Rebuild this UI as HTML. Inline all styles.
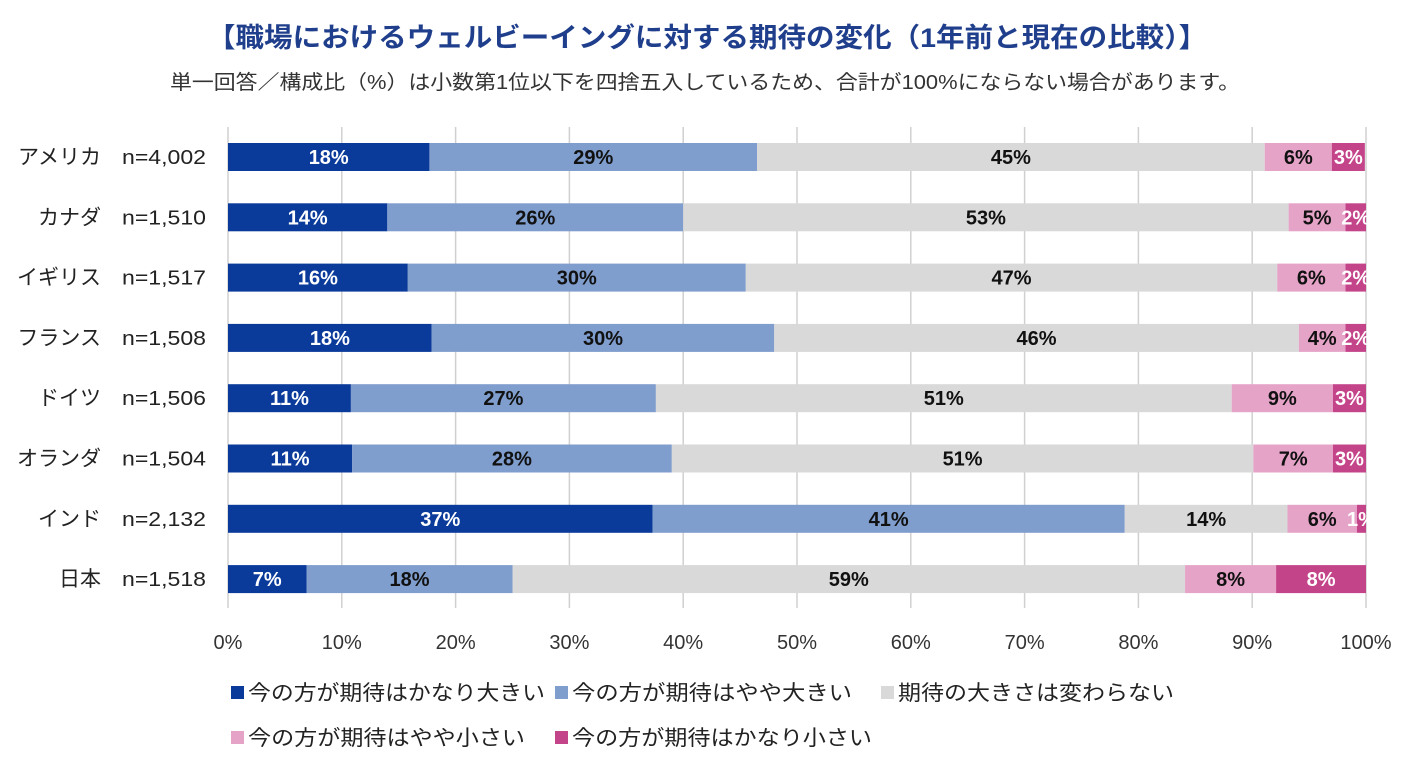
<!DOCTYPE html>
<html><head><meta charset="utf-8"><style>
body{margin:0;background:#fff;}
svg{display:block;font-family:"Liberation Sans","Noto Sans CJK JP",sans-serif;}
</style></head><body>
<svg id="chart" width="1417" height="767" xmlns="http://www.w3.org/2000/svg">
<text x="207" y="47" textLength="1000" lengthAdjust="spacingAndGlyphs" font-size="27" font-weight="bold" fill="#1F3E8C">【職場におけるウェルビーイングに対する期待の変化（1年前と現在の比較）】</text>
<text x="170" y="89" textLength="1070" lengthAdjust="spacingAndGlyphs" font-size="20" fill="#333">単一回答／構成比（%）は小数第1位以下を四捨五入しているため、合計が100%にならない場合があります。</text>
<g id="grid"></g><g id="bars"></g><g id="ylabels"></g><g id="xticks"></g><g id="legend"></g>
</svg>
<script>
const categories=["アメリカ","カナダ","イギリス","フランス","ドイツ","オランダ","インド","日本"];
const sampleSizes=["n=4,002","n=1,510","n=1,517","n=1,508","n=1,506","n=1,504","n=2,132","n=1,518"];
const seriesNames=["今の方が期待はかなり大きい","今の方が期待はやや大きい","期待の大きさは変わらない","今の方が期待はやや小さい","今の方が期待はかなり小さい"];
const s1=[17.7,14.0,15.8,17.9,10.8,10.9,37.3,6.9];
const s2=[28.8,26.0,29.7,30.1,26.8,28.1,41.5,18.1];
const s3=[44.6,53.2,46.7,46.1,50.6,51.1,14.3,59.1];
const s4=[5.9,5.0,6.0,4.1,8.9,7.0,6.1,8.0];
const s5=[2.9,1.8,1.8,1.8,2.9,2.9,0.8,7.9];
const l1=["18%","14%","16%","18%","11%","11%","37%","7%"];
const l2=["29%","26%","30%","30%","27%","28%","41%","18%"];
const l3=["45%","53%","47%","46%","51%","51%","14%","59%"];
const l4=["6%","5%","6%","4%","9%","7%","6%","8%"];
const l5=["3%","2%","2%","2%","3%","3%","1%","8%"];
const xTicks=[0,10,20,30,40,50,60,70,80,90,100];
const colors=["#0A3A9A","#7F9DCD","#D9D9D9","#E6A3C8","#C4448A"];
const textColors=["#fff","#111","#111","#111","#fff"];
const X0=228,X1=1366,Y0=127,Y1=608;
const xScale=v=>X0+(X1-X0)*v/100;
const yCenter=i=>157+i*60.3;
const NS="http://www.w3.org/2000/svg";
function mk(tag,attrs,parent,text){const e=document.createElementNS(NS,tag);for(const k in attrs)e.setAttribute(k,attrs[k]);if(text!==undefined)e.textContent=text;parent.appendChild(e);return e;}
const grid=document.getElementById('grid'),bars=document.getElementById('bars'),yl=document.getElementById('ylabels'),xt=document.getElementById('xticks'),lg=document.getElementById('legend');
xTicks.forEach(t=>{
 const ln=mk('line',{x1:xScale(t),x2:xScale(t),y1:Y0,y2:Y1,stroke:'#D0D0D0','stroke-width':1.5},grid);
 
 
 const tx=mk('text',{x:xScale(t),y:649,'text-anchor':'middle','font-size':20,fill:'#333'},xt,t+'%');
 
 
});
const series=[s1,s2,s3,s4,s5],labels=[l1,l2,l3,l4,l5];
categories.forEach((c,i)=>{
 const cy=yCenter(i);let cum=0;
 const cl=mk('text',{x:101,y:cy+7,'text-anchor':'end','font-size':21,fill:'#222'},yl,c);
 
 
 const nl=mk('text',{x:122,y:cy+7,'font-size':20,fill:'#222',textLength:84,lengthAdjust:'spacingAndGlyphs'},yl,sampleSizes[i]);
 
 
 series.forEach((s,k)=>{
  const xa=xScale(cum),xb=xScale(cum+s[i]);cum+=s[i];
  const r=mk('rect',{x:xa,y:cy-14,width:xb-xa,height:28,fill:colors[k]},bars);
  
  
  const t=mk('text',{x:(xa+xb)/2,y:cy+7,'text-anchor':'middle','font-size':20,'font-weight':'bold',fill:textColors[k]},bars,labels[k][i]);
  
  
 });
});
const legPos=[[231,698,297],[555,698,280],[881,698,276],[231,743,277],[555,743,300]];
seriesNames.forEach((n,k)=>{
 const [x,y,w]=legPos[k];
 const r=mk('rect',{x:x,y:y-12,width:13,height:13,fill:colors[k]},lg);
 
 
 const t=mk('text',{x:x+17,y:y+2,'font-size':21,fill:'#222',textLength:w,lengthAdjust:'spacingAndGlyphs'},lg,n);
 
 
});
</script>
</body></html>
